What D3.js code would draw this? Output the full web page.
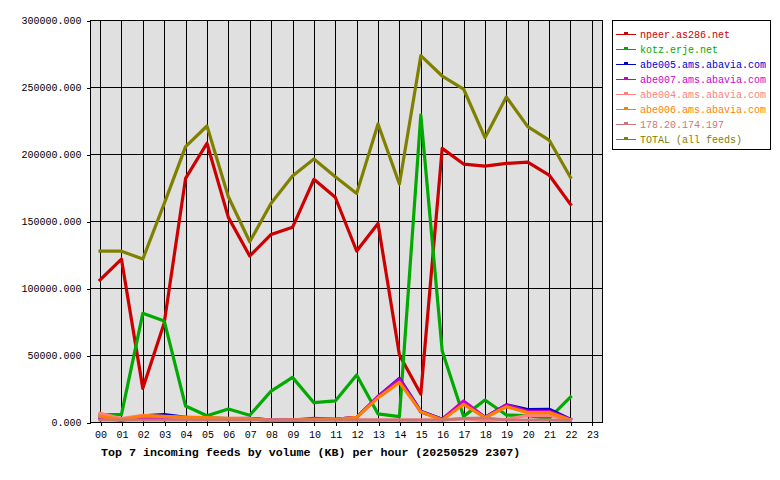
<!DOCTYPE html>
<html>
<head>
<meta charset="utf-8">
<script src="https://cdn.jsdelivr.net/npm/d3@7"></script>
<style>
  html, body { margin: 0; padding: 0; background: #ffffff; }
  svg { display: block; }
  text { font-family: "Liberation Mono", "DejaVu Sans Mono", monospace; }
</style>
</head>
<body>
<svg id="chart" width="780" height="480"></svg>
<script>
// ---------- data ----------
const hours = ["00","01","02","03","04","05","06","07","08","09","10","11","12","13","14","15","16","17","18","19","20","21","22","23"];
const seriesNames = ["npeer.as286.net","kotz.erje.net","abe005.ams.abavia.com","abe007.ams.abavia.com","abe004.ams.abavia.com","abe006.ams.abavia.com","178.20.174.197","TOTAL (all feeds)"];
const seriesColors = ["#cc0000","#00aa00","#0000cc","#cc00cc","#ff8080","#ff8000","#cc7777","#808000"];

const npeer  = [106000,121600,25100,73900,181800,208000,152700,123900,140000,145300,181100,167700,127600,148200,50000,20900,204200,192500,191000,193000,194000,184300,162400];
const kotz   = [5500,5500,81100,75400,11900,4700,9700,5000,23100,33300,14400,15700,35100,6000,4000,229000,53000,4200,16400,5200,4700,2700,18700];
const abe005 = [3000,1500,4500,5500,3500,3000,2500,2500,1500,1500,2000,2000,3500,19000,32500,8000,2000,14000,3500,12800,9200,9500,2000];
const abe007 = [2500,1500,2500,2500,3000,2500,2500,2800,1500,1500,2700,2000,3500,19000,32000,7500,2000,15700,3500,12700,8000,8000,2000];
const abe004 = [6500,2500,5000,4000,3000,2000,2000,2000,1500,1500,1500,1500,1500,1500,1500,1500,1500,2500,1000,2000,5000,5000,1500];
const abe006 = [4200,1800,4500,4200,3700,3200,2700,2500,1000,1500,2000,2000,3500,18000,29600,7700,1500,13200,3200,11400,7000,7000,1500];
const ip178  = [1500,1500,1500,1500,1500,1500,1500,1500,1500,1500,1500,1500,1500,1500,1500,1500,1500,2500,3000,1500,1500,1500,1200];
const total  = [127500,127500,121600,163000,205500,220900,168100,134500,163200,183600,196300,183000,170600,222400,177600,273400,258200,248500,212200,242500,220400,210400,182600];

const seriesValues = [npeer, kotz, abe005, abe007, abe004, abe006, ip178, total];
const yTicks = [0,50000,100000,150000,200000,250000,300000];
const title = "Top 7 incoming feeds by volume (KB) per hour (20250529 2307)";

// ---------- chart ----------
const svg = d3.select("#chart");
const pLeft = 90, pRight = 603, pTop = 20, pBottom = 422;

const x = d3.scaleLinear().domain([-0.47, 23.52]).range([pLeft, pRight]);
const y = d3.scaleLinear().domain([0, 300000]).range([pBottom, pTop]);
const px = v => Math.round(v) + 0.5;

// plot background
svg.append("rect")
  .attr("x", pLeft).attr("y", pTop)
  .attr("width", pRight - pLeft).attr("height", pBottom - pTop)
  .attr("fill", "#e0e0e0");

// grid
const grid = svg.append("g").attr("shape-rendering", "crispEdges").attr("stroke", "#000").attr("stroke-width", 1);
hours.forEach((h, i) => {
  grid.append("line").attr("x1", px(x(i))).attr("x2", px(x(i))).attr("y1", pTop).attr("y2", pBottom);
});
yTicks.forEach(t => {
  grid.append("line").attr("x1", pLeft).attr("x2", pRight).attr("y1", px(y(t))).attr("y2", px(y(t)));
});

// border
svg.append("rect")
  .attr("x", pLeft + 0.5).attr("y", pTop + 0.5)
  .attr("width", pRight - pLeft - 1).attr("height", pBottom - pTop)
  .attr("fill", "none").attr("stroke", "#000").attr("shape-rendering", "crispEdges");

// y axis
const yAxis = d3.axisLeft(y).tickValues(yTicks).tickFormat(d3.format(".3f")).tickSize(4).tickPadding(5);
const gy = svg.append("g").attr("transform", `translate(${pLeft + 0.5},0.5)`).call(yAxis);
gy.select(".domain").remove();
gy.selectAll("line").attr("shape-rendering", "crispEdges");
gy.selectAll("text").attr("font-size", "10px").attr("fill", "#000")
  .attr("font-family", "'Liberation Mono','DejaVu Sans Mono',monospace");

// x axis
const xAxis = d3.axisBottom(x).tickValues(d3.range(hours.length)).tickFormat(i => hours[i]).tickSize(4).tickPadding(5);
const gx = svg.append("g").attr("transform", `translate(0.5,${pBottom})`).call(xAxis);
gx.select(".domain").remove();
gx.selectAll("line").attr("shape-rendering", "crispEdges");
gx.selectAll("text").attr("font-size", "10px").attr("fill", "#000")
  .attr("font-family", "'Liberation Mono','DejaVu Sans Mono',monospace");

// series lines
const line = d3.line().x((d, i) => x(i)).y(d => y(d));
seriesValues.forEach((vals, s) => {
  svg.append("path")
    .datum(vals)
    .attr("d", line)
    .attr("fill", "none")
    .attr("stroke", seriesColors[s])
    .attr("stroke-width", 3.2)
    .attr("stroke-linejoin", "round")
    .attr("stroke-linecap", "square");
});

// title
svg.append("text")
  .attr("x", 101).attr("y", 456)
  .attr("font-size", "11.65px").attr("font-weight", "bold").attr("fill", "#000")
  .text(title);

// legend
const lg = svg.append("g");
lg.append("rect")
  .attr("x", 612.5).attr("y", 20.5).attr("width", 158).attr("height", 129)
  .attr("fill", "#fff").attr("stroke", "#000").attr("shape-rendering", "crispEdges");
seriesNames.forEach((name, i) => {
  const cy = 34 + i * 15;
  const g = lg.append("g").attr("shape-rendering", "crispEdges");
  g.append("line").attr("x1", 616).attr("x2", 636).attr("y1", cy + 0.5).attr("y2", cy + 0.5)
    .attr("stroke", seriesColors[i]).attr("stroke-width", 1);
  g.append("rect").attr("x", 624.5).attr("y", cy - 1.5).attr("width", 3).attr("height", 1)
    .attr("fill", "none").attr("stroke", seriesColors[i]).attr("stroke-width", 1);
  lg.append("text").attr("x", 640).attr("y", cy + 3.5)
    .attr("font-size", "10px").attr("fill", seriesColors[i])
    .text(name);
});
</script>
</body>
</html>
